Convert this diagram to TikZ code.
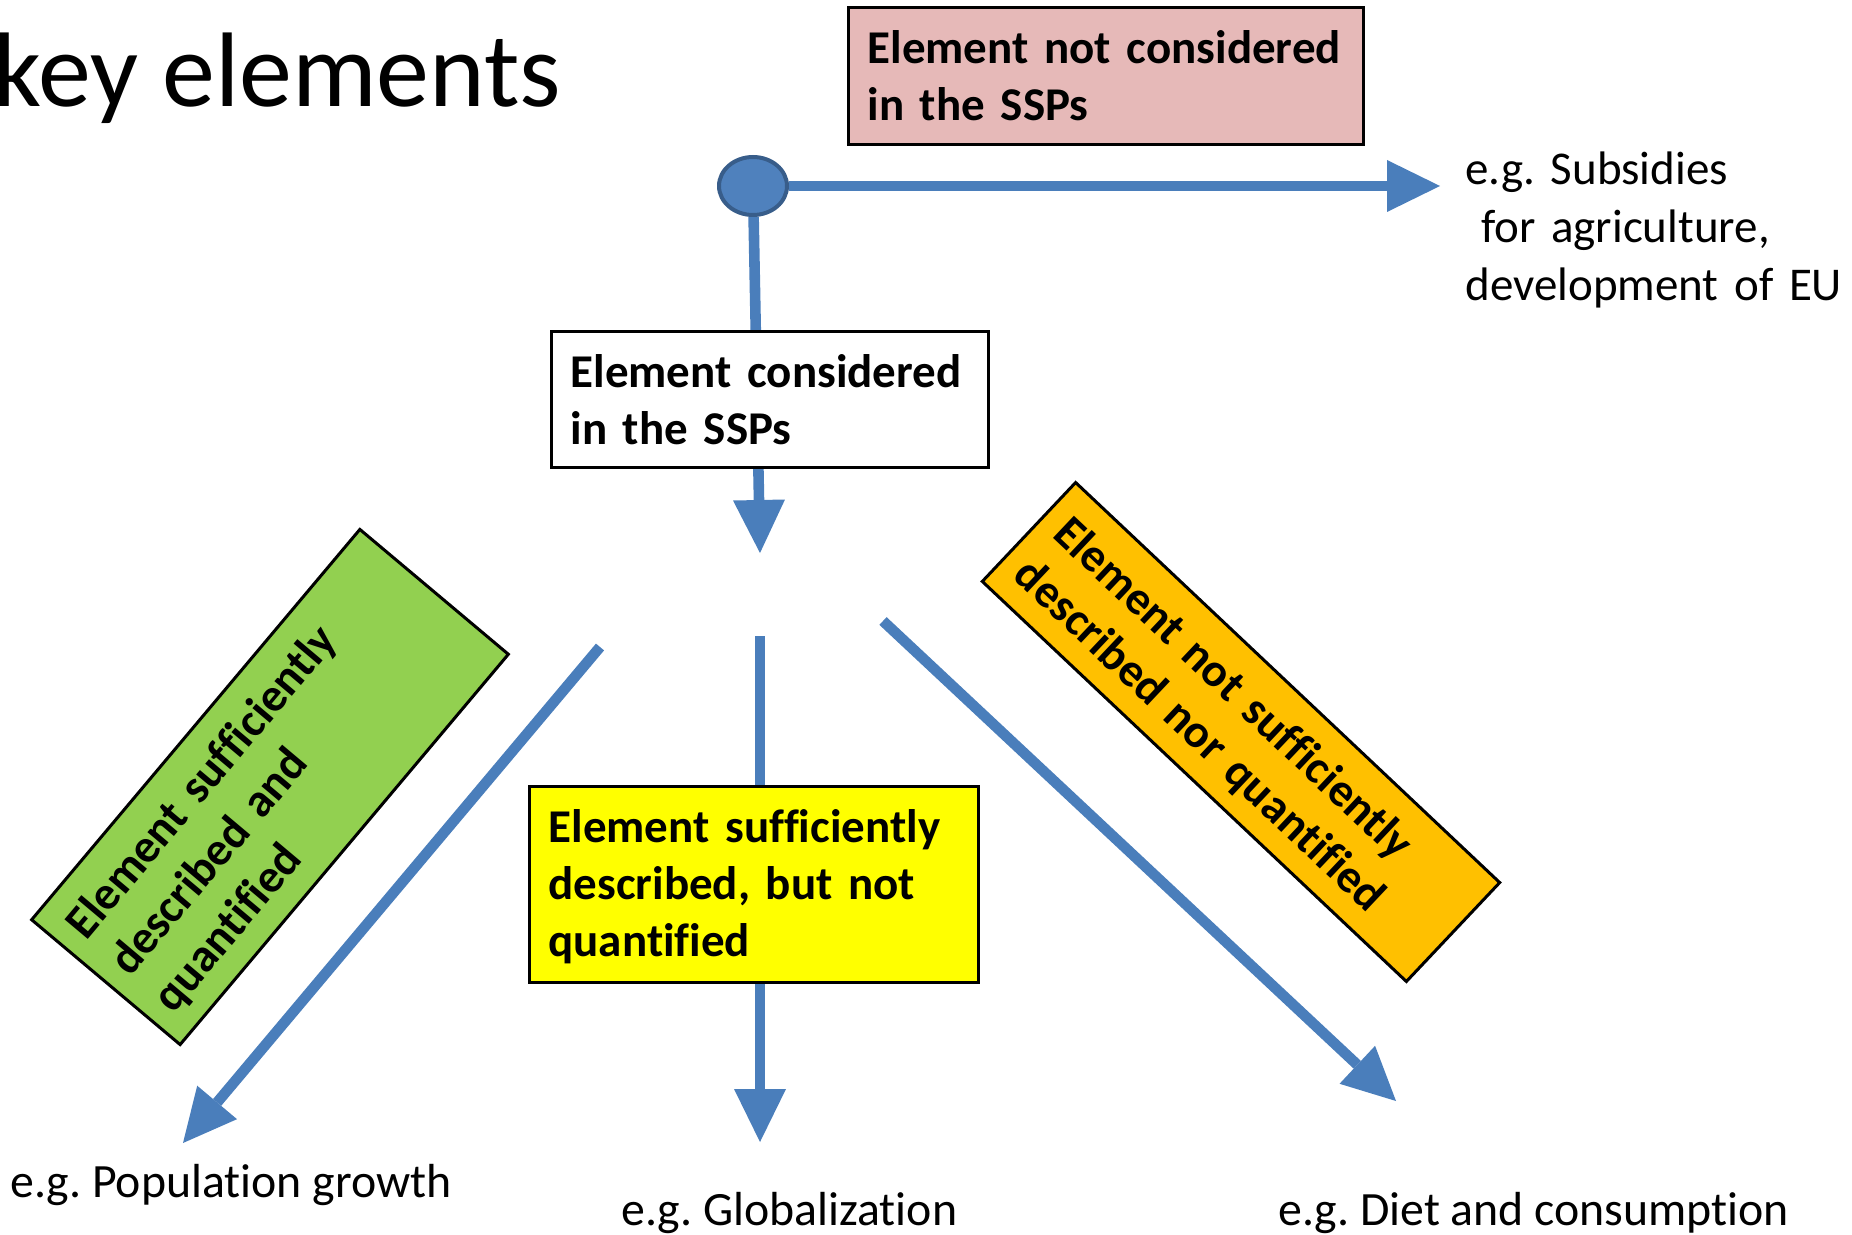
\documentclass[tikz,border=0pt]{standalone}
\usepackage{fontspec}
\setmainfont[Ligatures={NoCommon}]{Carlito}
\usetikzlibrary{arrows.meta,shapes.geometric,backgrounds}
\frenchspacing
\definecolor{lineblue}{HTML}{4A7EBB}
\definecolor{dotfill}{HTML}{4F81BD}
\definecolor{dotdraw}{HTML}{385D8A}
\definecolor{pinkfill}{HTML}{E6B9B8}
\definecolor{greenfill}{HTML}{92D050}
\definecolor{yellowfill}{HTML}{FFFF00}
\definecolor{orangefill}{HTML}{FFC000}
\tikzset{
  lbl/.style={font=\fontsize{23.5pt}{28.5pt}\selectfont\bfseries, draw=black, line width=1.5pt,
    inner xsep=9.5pt, inner ysep=0pt, text height=28pt, align=left},
  conn/.style={draw=lineblue, line width=5.3pt},
  arr/.style={conn, -{Triangle[length=26.5pt,width=26pt,line width=0pt]}},
  eg/.style={font=\fontsize{23.5pt}{29pt}\selectfont, inner sep=0pt, anchor=base west, align=left},
  egline/.style={eg, font=\fontsize{23.9pt}{29pt}\selectfont},
}
\begin{document}
\begin{tikzpicture}[x=0.5pt,y=-0.5pt]
\useasboundingbox (0,0) rectangle (1852,1235);
\node[font=\fontsize{53pt}{63pt}\selectfont, inner sep=0pt, anchor=base west] (title) at (-7,107) {key elements};

\node[lbl, fill=pinkfill, anchor=north west, text width=238.5pt, text depth=40.5pt] (notcons) at (847,6)
  {Element not considered\\in the SSPs};
\node[lbl, fill=white, anchor=north west, text width=199.5pt, text depth=40pt] (cons) at (550,330)
  {Element considered\\in the SSPs};
\node[lbl, fill=yellowfill, anchor=north west, text width=205.5pt, text depth=70pt] (descr) at (528,785)
  {Element sufficiently\\described, but not\\quantified};
\node[lbl, fill=greenfill, anchor=center, rotate=49.94, text width=236pt, text depth=69pt] (quant) at (270,787)
  {Element sufficiently\\described and\\quantified};
\node[lbl, fill=orangefill, anchor=center, rotate=-43.33, text width=272.5pt, text depth=40pt] (notsuff) at (1241,732)
  {Element not sufficiently\\described nor quantified};

\node[ellipse, fill=dotfill, draw=dotdraw, line width=2pt, minimum width=34pt, minimum height=29pt, inner sep=0pt] (dot) at (753,186) {};

\node[eg, text width=190pt] (egsub) at (1465,185) {e.g. Subsidies\\\mbox{}\ for agriculture,\\development of EU};
\node[egline] (egpop) at (10,1197) {e.g. Population growth};
\node[egline] (egglob) at (621,1225) {e.g. Globalization};
\node[egline] (egdiet) at (1278,1225) {e.g. Diet and consumption};

\coordinate (tipR) at (1440,186);
\coordinate (tipC) at (760,553);
\coordinate (m0) at (760,636);
\coordinate (tipM) at (760,1142);
\coordinate (l0) at (600,647);
\coordinate (tipL) at (183,1143);
\coordinate (r0) at (883,621);
\coordinate (tipD) at (1396,1101);

\begin{pgfonlayer}{background}
\draw[arr] (dot) -- (tipR);
\draw[arr] (dot) -- (tipC);
\draw[arr] (m0) -- (tipM);
\draw[arr] (l0) -- (tipL);
\draw[arr] (r0) -- (tipD);
\end{pgfonlayer}
\end{tikzpicture}
\end{document}
